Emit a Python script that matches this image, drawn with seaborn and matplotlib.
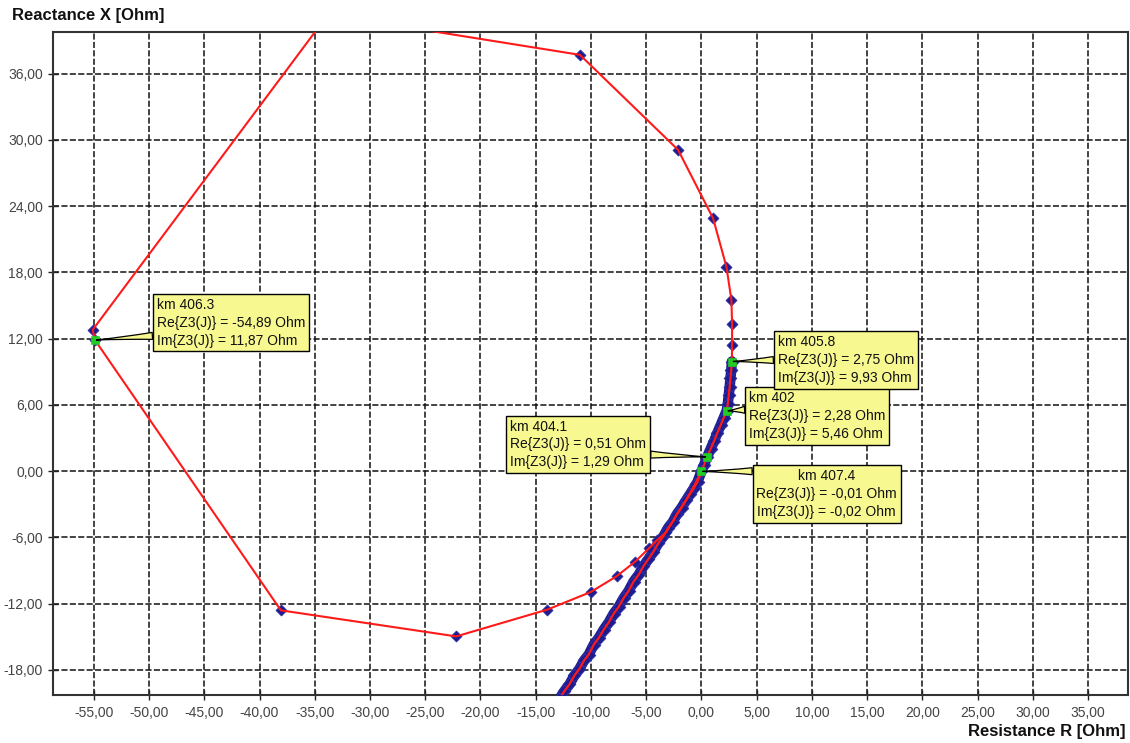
import matplotlib
matplotlib.use("Agg")
import matplotlib.pyplot as plt
import pandas as pd
import seaborn as sns

# ---------------- data ----------------
# outer loop: red line with diamond markers
loop_R = [2.75, 2.77, 2.77, 2.71, 2.26, 1.05, -2.12, -11.0, -33.8, -55.1, -54.89,
          -38.07, -22.2, -13.97, -10.02, -7.69, -6.0, -4.77, -3.98, -3.17,
          -2.3, -1.4, -0.6, -0.01]
loop_X = [9.93, 11.42, 13.3, 15.5, 18.5, 22.9, 29.1, 37.7, 41.35, 12.8, 11.87,
          -12.6, -14.96, -12.54, -10.94, -9.52, -8.19, -7.0, -6.2, -5.5,
          -4.0, -2.6, -1.2, -0.02]

# dense trace (many closely spaced samples)
band_R = [2.75, 2.70, 2.62, 2.55, 2.47, 2.38, 2.28, 2.02, 1.75, 1.45, 1.15, 0.82,
          0.51, 0.25, -0.01, -0.35, -0.70, -1.05, -1.40, -1.80, -2.20, -2.60,
          -3.00, -3.45, -3.90, -4.35, -4.80, -5.25, -5.70, -6.15, -6.60, -7.05,
          -7.50, -7.95, -8.40, -8.85, -9.30, -9.75, -10.20, -10.60, -11.05,
          -11.50, -11.95, -12.40, -12.85, -13.30]
band_X = [9.93, 9.2, 8.4, 7.6, 6.9, 6.1, 5.46, 4.85, 4.2, 3.5, 2.75, 2.0,
          1.29, 0.6, -0.02, -0.95, -1.55, -2.1, -2.65, -3.3, -3.85, -4.6,
          -5.1, -5.9, -6.5, -7.3, -7.95, -8.6, -9.4, -10.0, -10.85, -11.5,
          -12.3, -12.9, -13.7, -14.35, -15.1, -15.7, -16.6, -17.1, -17.9,
          -18.5, -19.3, -19.9, -20.6, -21.3]

# annotated points
ann_km = ["406.3", "402", "405.8", "404.1", "407.4"]
ann_R = [-54.89, 2.28, 2.75, 0.51, -0.01]
ann_X = [11.87, 5.46, 9.93, 1.29, -0.02]

x_ticks = [-55, -50, -45, -40, -35, -30, -25, -20, -15, -10, -5, 0, 5, 10, 15, 20, 25, 30, 35]
y_ticks = [-18, -12, -6, 0, 6, 12, 18, 24, 30, 36]

# ---------------- style ----------------
sns.set_style("white")
plt.rcParams["font.family"] = ["Liberation Sans", "DejaVu Sans"]

fig = plt.figure(figsize=(11.3, 7.43), dpi=100)
ax = fig.add_axes([0.0473, 0.0641, 0.9509, 0.8933])

RED = "#ff1a1a"
NAVY = "#1c1c8c"
YELLOW = "#f8f890"
GREEN = "#22cc22"

loop_df = pd.DataFrame({"R": loop_R, "X": loop_X})
band_df = pd.DataFrame({"R": band_R, "X": band_X})

# dense band: thick navy base, diamonds, red line on top
sns.lineplot(data=band_df, x="R", y="X", sort=False, estimator=None, ax=ax,
             color=NAVY, linewidth=7.5, zorder=3)
sns.scatterplot(data=band_df, x="R", y="X", marker="D", s=42, color=NAVY,
                edgecolor="#3030b0", linewidth=0.6, ax=ax, zorder=3.5)
sns.lineplot(data=band_df, x="R", y="X", sort=False, estimator=None, ax=ax,
             color=RED, linewidth=1.6, zorder=4)

# loop: diamonds then red line
sns.scatterplot(data=loop_df, x="R", y="X", marker="D", s=32, color=NAVY,
                edgecolor="#3030b0", linewidth=0.5, ax=ax, zorder=3.6)
sns.lineplot(data=loop_df, x="R", y="X", sort=False, estimator=None, ax=ax,
             color=RED, linewidth=1.5, zorder=4.2)

# green marked points
sns.scatterplot(x=ann_R, y=ann_X, marker="s", s=30, color=GREEN,
                edgecolor=GREEN, ax=ax, zorder=6)

# ---------------- annotations ----------------
box_pos = [(-49.3, 15.7), (4.3, 7.25), (6.9, 12.33), (-17.3, 4.67), (4.98, 0.18)]
rel = [(0, 0.24), (0, 0.63), (0, 0.5), (1, 0.3), (0, 0.96)]
malign = ["left", "left", "left", "left", "center"]

def fmt(v):
    return f"{v:.2f}".replace(".", ",")

for i, (km, r, xv) in enumerate(zip(ann_km, ann_R, ann_X)):
    txt = f"km {km}\nRe{{Z3(J)}} = {fmt(r)} Ohm\nIm{{Z3(J)}} = {fmt(xv)} Ohm"
    ax.annotate(txt, xy=(r, xv), xytext=box_pos[i], textcoords="data",
                ha="left", va="top", multialignment=malign[i],
                fontsize=10, color="#111111", linespacing=1.35,
                bbox=dict(boxstyle="square,pad=0.28", fc=YELLOW, ec="black", lw=1.0),
                arrowprops=dict(arrowstyle="wedge,tail_width=0.5,shrink_factor=0.4",
                                fc=YELLOW, ec="black", lw=0.9,
                                relpos=rel[i], shrinkA=0, shrinkB=1),
                zorder=10 + i)

# ---------------- axes ----------------
ax.set_xlim(-58.65, 38.6)
ax.set_ylim(-20.3, 39.8)
ax.set_xticks(x_ticks)
ax.set_yticks(y_ticks)
ax.set_xticklabels([fmt(v) for v in x_ticks])
ax.set_yticklabels([fmt(v) for v in y_ticks])
ax.tick_params(axis="both", direction="inout", length=7, width=1.0, color="#222222",
               labelsize=10, labelcolor="#444444", pad=4)
ax.tick_params(axis="both", which="both", bottom=True, left=True)

ax.grid(True, color="#111111", linestyle=(0, (4, 1.5)), linewidth=1.1)
ax.set_axisbelow(True)
for sp in ax.spines.values():
    sp.set_color("#333333")
    sp.set_linewidth(1.5)

ax.set_xlabel("Resistance R [Ohm]", fontsize=12, fontweight="bold", color="#111111",
              ha="right", va="center")
ax.xaxis.set_label_coords(0.998, -0.055)
ax.set_ylabel("Reactance X [Ohm]", fontsize=12, fontweight="bold", color="#111111",
              rotation=0, ha="left", va="center")
ax.yaxis.set_label_coords(-0.0386, 1.025)

fig.savefig("out.png", dpi=100)
